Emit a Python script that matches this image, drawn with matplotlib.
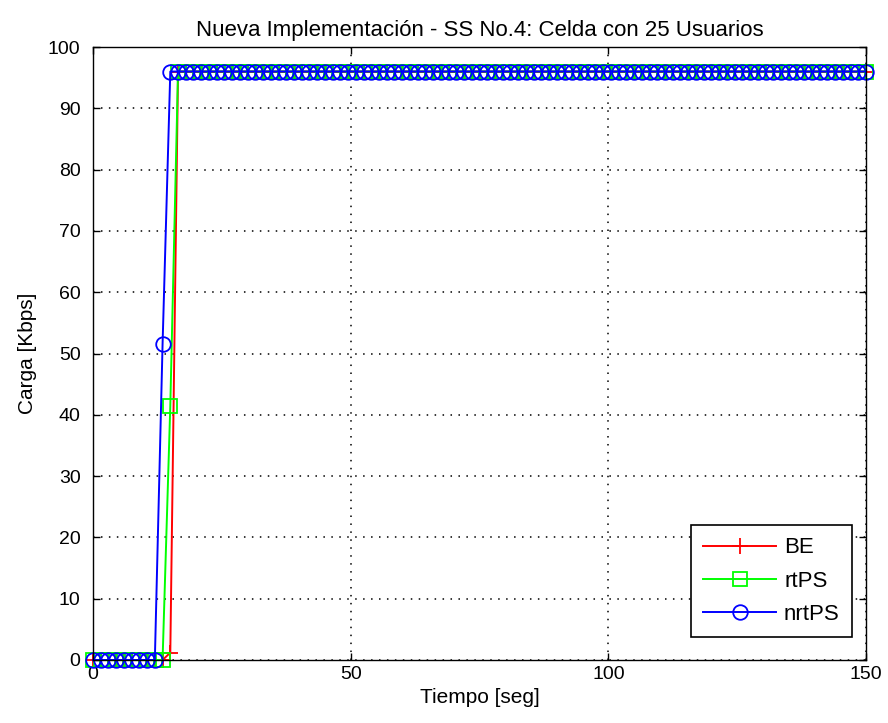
import matplotlib
matplotlib.use("Agg")
import matplotlib.pyplot as plt
import numpy as np

plt.rcParams['font.family'] = ['Liberation Sans', 'DejaVu Sans']

title = "Nueva Implementación - SS No.4: Celda con 25 Usuarios"
xlabel = "Tiempo [seg]"
ylabel = "Carga [Kbps]"

# sample times (s), step 1.5 s
tiempo = np.arange(0, 151, 1.5)

# series values
be = [0.0] * 10 + [1.2] + [96.0] * 90
rtps = [0.0] * 9 + [0.0, 41.5] + [96.0] * 90
nrtps = [0.0] * 9 + [51.5] + [96.0] * 91

series = [("BE", be, 'r', '+'), ("rtPS", rtps, (0, 1, 0), 's'), ("nrtPS", nrtps, 'b', 'o')]

xticks = [0, 50, 100, 150]
yticks = list(range(0, 101, 10))

fig = plt.figure(figsize=(8.88, 7.23), dpi=100)
ax = fig.add_axes([93/888, 1-660/723, (866-93)/888, (660-47)/723])

for name, vals, col, mk in series:
    ms = 11 if mk == '+' else (10.5 if mk == 's' else 10.5)
    ax.plot(tiempo, vals, color=col, marker=mk, markersize=ms, markerfacecolor='none',
            markeredgecolor=col, markeredgewidth=1.3, linewidth=1.4, label=name, clip_on=False)

ax.set_xlim(0, 150)
ax.set_ylim(0, 100)
ax.set_xticks(xticks)
ax.set_yticks(yticks)
ax.tick_params(direction='in', top=True, right=True, length=5, labelsize=14, width=1)
ax.tick_params(axis='y', pad=9)
ax.tick_params(axis='x', pad=4)
ax.grid(True, color='black', linestyle=(0, (1, 4.2)), linewidth=1.1)
for sp in ax.spines.values():
    sp.set_linewidth(1)
ax.set_title(title, fontsize=16, pad=8)
ax.set_xlabel(xlabel, fontsize=15, labelpad=4)
ax.set_ylabel(ylabel, fontsize=15, labelpad=8)

leg = ax.legend(loc='lower right', bbox_to_anchor=((852-93)/773, (660-637)/613),
                fontsize=16, handlelength=3.3, numpoints=1,
                fancybox=False, edgecolor='black', framealpha=1,
                borderaxespad=0, borderpad=0.55, handletextpad=0.35, labelspacing=0.55)
leg.get_frame().set_linewidth(1.2)

fig.savefig("out.png", dpi=100)
